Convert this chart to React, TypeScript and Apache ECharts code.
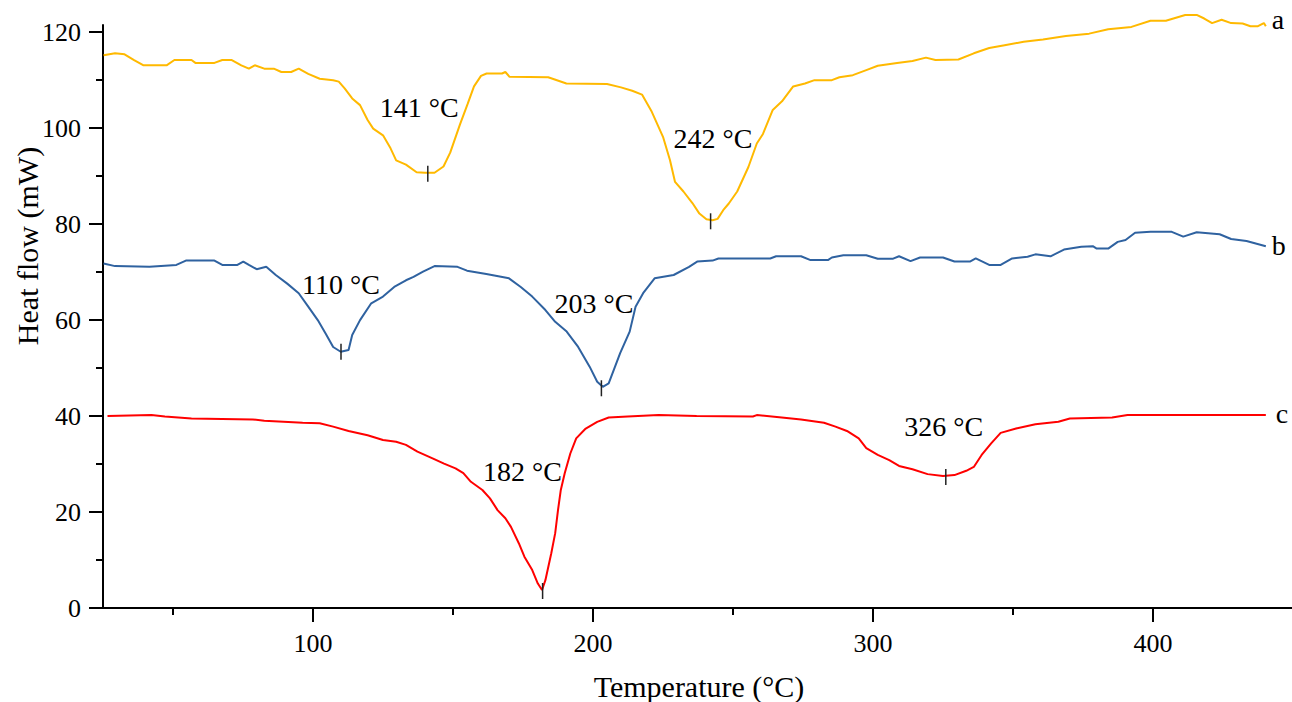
import React, { useEffect, useRef } from 'react';
import * as echarts from 'echarts';

// ---- Data ----
const tempA = [25.2, 29.3, 32.7, 36.1, 39.5, 47.7, 50.5, 56.6, 58, 64.8, 67.6, 71, 74.4, 77.1, 79.2, 82.6, 86, 88.7, 92.2, 94.9, 98.3, 102.4, 107.2, 109.2, 111.3, 114, 116.8, 119.5, 121.5, 125, 127.7, 129.7, 133.2, 137, 140, 143.4, 146.6, 149, 152.5, 155.2, 157.5, 160, 162, 167.5, 168.7, 170.2, 184, 190.5, 205, 210, 214, 217.5, 221, 225, 227.5, 229.3, 232.3, 235.5, 238, 240.5, 242.7, 244.5, 246.5, 248.5, 251.5, 255.5, 258.5, 260.7, 264.2, 267.5, 271.5, 275.7, 279.1, 285.3, 288, 292.8, 297.6, 301.7, 308.6, 314.1, 318.9, 322.3, 330.5, 336, 341.5, 347, 353.8, 360.7, 368.9, 377.2, 384, 392.3, 399.1, 404.6, 411.5, 415.6, 418.3, 421.1, 424.5, 427.9, 432, 434.8, 437.5, 439.6, 440.3];
const flowA = [115.2, 115.6, 115.4, 114.2, 113.1, 113.1, 114.2, 114.2, 113.6, 113.6, 114.2, 114.2, 113.1, 112.4, 113.1, 112.4, 112.4, 111.7, 111.7, 112.4, 111.3, 110.3, 110, 109.7, 108.3, 106.2, 104.8, 101.7, 99.9, 98.5, 95.8, 93.3, 92.4, 90.8, 90.7, 90.7, 92, 94.9, 100.8, 105, 108.7, 110.9, 111.4, 111.4, 111.7, 110.7, 110.6, 109.3, 109.2, 108.5, 107.8, 107, 103.4, 98.2, 93.3, 88.8, 86.8, 84.4, 82.2, 81, 80.8, 81.1, 82.9, 84.3, 86.8, 91.9, 96.8, 98.8, 103.8, 105.6, 108.7, 109.3, 110, 110, 110.6, 111.05, 112.1, 113, 113.6, 114, 114.7, 114.2, 114.3, 115.6, 116.7, 117.3, 118, 118.5, 119.2, 119.7, 120.6, 121.1, 122.4, 122.4, 123.6, 123.6, 122.85, 121.9, 122.6, 121.9, 121.8, 121.25, 121.25, 121.9, 121.25];

const tempB = [25.2, 29.3, 41.6, 51.2, 54.6, 64.8, 67.6, 73, 75.1, 77.1, 79.9, 83.3, 86.7, 90.8, 94.9, 98.3, 101.7, 104.5, 107.2, 109.9, 112.7, 114, 116.8, 120.8, 125, 129, 133.2, 135.9, 139.3, 143.4, 151.6, 155, 161.9, 170, 174.2, 178.3, 183, 186.5, 190.6, 194.7, 198.8, 201.5, 203.5, 205.6, 209.7, 213.1, 215.2, 217.9, 222, 228.8, 234.3, 237.2, 242.7, 244.8, 263.3, 265.4, 274.3, 277.7, 283.9, 285.3, 289.4, 297.6, 301.7, 307.2, 309.3, 313.4, 316.8, 325, 329.1, 334.6, 336.7, 341.5, 345.6, 349.7, 355.2, 358, 363.4, 368.2, 374.4, 378.5, 379.9, 384, 387.4, 390.2, 393.6, 399.1, 406.7, 410.8, 415.6, 423.8, 427.9, 433.4, 440.3];
const flowB = [71.8, 71.25, 71.1, 71.5, 72.4, 72.4, 71.5, 71.5, 72.2, 71.5, 70.6, 71.1, 69.4, 67.6, 65.6, 62.8, 60, 57.2, 54.4, 53.4, 53.75, 56.9, 60, 63.5, 64.9, 66.9, 68.3, 69, 70.1, 71.25, 71.1, 70.3, 69.6, 68.7, 66.9, 64.9, 62.1, 59.65, 57.6, 54.4, 50.3, 47.15, 46.1, 46.8, 53.1, 57.6, 62.8, 65.6, 68.7, 69.4, 71.1, 72.2, 72.4, 72.85, 72.85, 73.3, 73.3, 72.5, 72.5, 73.05, 73.5, 73.5, 72.8, 72.8, 73.3, 72.3, 73.05, 73.05, 72.2, 72.2, 72.85, 71.5, 71.5, 72.85, 73.2, 73.7, 73.3, 74.7, 75.3, 75.4, 74.9, 74.9, 76.3, 76.7, 78.2, 78.4, 78.4, 77.4, 78.3, 77.9, 76.9, 76.5, 75.4];

const tempC = [26.6, 42.3, 47.1, 56.6, 78.5, 82.6, 96.3, 102.4, 107.2, 112.7, 119.5, 125, 129.7, 133.2, 137.3, 142.7, 146.8, 150.9, 153.7, 156.4, 160.5, 163.2, 165.9, 168.7, 170.7, 173.5, 175.5, 178.3, 180.3, 181.8, 183, 185.1, 186.5, 187.5, 188.5, 189.9, 191.9, 194, 197.4, 201.5, 205.6, 212.4, 223.4, 237, 257.1, 258.5, 267.4, 274.3, 282.5, 286.6, 290.7, 294.9, 297.6, 301.7, 305.8, 309.3, 314.1, 319.5, 325, 329.1, 333.3, 336, 338.8, 342.2, 345.6, 351.1, 358, 366.2, 370.3, 385.4, 390.9, 440.3];
const flowC = [40, 40.2, 39.9, 39.5, 39.3, 39.0, 38.6, 38.5, 37.8, 36.9, 36.0, 35, 34.65, 34, 32.6, 31.2, 30.1, 29.1, 28.1, 26.3, 24.6, 22.85, 20.4, 18.7, 16.9, 13.5, 10.7, 7.9, 5.1, 3.75, 5.8, 11.4, 15.6, 20.4, 24.6, 28.1, 32.2, 35.35, 37.4, 38.8, 39.7, 39.9, 40.2, 40, 39.9, 40.2, 39.7, 39.3, 38.6, 37.8, 36.9, 35.35, 33.3, 31.9, 30.8, 29.6, 28.9, 27.9, 27.5, 27.7, 28.6, 29.4, 31.9, 34.3, 36.5, 37.4, 38.3, 38.8, 39.5, 39.7, 40.2, 40.2];

const peakTempA = [141, 242];
const peakFlowA = [90.7, 80.8];
const peakTempB = [110, 203];
const peakFlowB = [53.6, 46.0];
const peakTempC = [182, 326];
const peakFlowC = [3.75, 27.5];

const curveNames = ['a', 'b', 'c'];
const xMajorTicks = [100, 200, 300, 400];
const xMinorTicks = [50, 150, 250, 350, 450];
const yMajorTicks = [0, 20, 40, 60, 80, 100, 120];
const yMinorTicks = [10, 30, 50, 70, 90, 110];

const xTitle = 'Temperature (°C)';
const yTitle = 'Heat flow (mW)';

// ---- Styles ----
const FONT = "'Liberation Serif', 'Times New Roman', serif";
const COLORS = ['#FFB900', '#2F62A0', '#FF0000'];
const LABEL_OFFSETS = [
  [[-8.5, -66], [2.3, -82.6]],
  [[0, -67.4], [-7.4, -84.7]],
  [[-20.2, -119.2], [-2.1, -50.2]],
];
const END_LABEL = [
  { distance: 6, offset: [0, -6.5] },
  { distance: 6, offset: [0, -1] },
  { distance: 6, offset: [4, -2] },
];

function makeSeries(idx: number, temps: number[], flows: number[], pT: number[], pV: number[]) {
  const color = COLORS[idx];
  return {
    type: 'line',
    name: curveNames[idx],
    xAxisIndex: 0,
    yAxisIndex: 0,
    data: temps.map((t, i) => [t, flows[i]]),
    showSymbol: false,
    symbol: 'none',
    clip: false,
    lineStyle: { color, width: 2 },
    itemStyle: { color },
    emphasis: { disabled: true },
    endLabel: {
      show: true,
      formatter: curveNames[idx],
      color: '#000',
      fontSize: 28,
      fontFamily: FONT,
      distance: END_LABEL[idx].distance,
      offset: END_LABEL[idx].offset,
    },
    markPoint: {
      symbol: 'rect',
      symbolSize: [1.5, 16],
      symbolOffset: [0, 1],
      itemStyle: { color: '#222' },
      emphasis: { disabled: true },
      data: pT.map((t, i) => ({
        coord: [t, pV[i]],
        label: {
          show: true,
          formatter: `${t} °C`,
          position: 'inside',
          offset: LABEL_OFFSETS[idx][i],
          color: '#000',
          fontSize: 28,
          fontFamily: FONT,
        },
      })),
    },
  };
}

export default function App() {
  const ref = useRef<HTMLDivElement>(null);
  useEffect(() => {
    if (!ref.current) return;
    const chart = echarts.init(ref.current, null, { renderer: 'svg' });
    const axisLine = { show: true, lineStyle: { color: '#000', width: 2 } };
    chart.setOption({
      animation: false,
      backgroundColor: '#fff',
      textStyle: { fontFamily: FONT },
      grid: { left: 103, right: -1, top: 25, bottom: 94, outerBoundsMode: 'none', containLabel: false },
      xAxis: [
        {
          type: 'value', min: 25, max: 450, position: 'bottom',
          axisLine,
          axisTick: { show: true, customValues: xMajorTicks, length: 14, lineStyle: { color: '#000', width: 2 } },
          axisLabel: { show: true, customValues: xMajorTicks, margin: 22, color: '#000', fontSize: 26, fontFamily: FONT },
          splitLine: { show: false },
        },
        {
          type: 'value', min: 25, max: 450, position: 'bottom', offset: 0,
          axisLine: { show: false },
          axisTick: { show: true, customValues: xMinorTicks, length: 7, lineStyle: { color: '#000', width: 2 } },
          axisLabel: { show: false },
          splitLine: { show: false },
        },
      ],
      yAxis: [
        {
          type: 'value', min: 0, max: 121.5, position: 'left',
          axisLine,
          axisTick: { show: true, customValues: yMajorTicks, length: 14, lineStyle: { color: '#000', width: 2 } },
          axisLabel: { show: true, customValues: yMajorTicks, margin: 22, color: '#000', fontSize: 26, fontFamily: FONT },
          splitLine: { show: false },
        },
        {
          type: 'value', min: 0, max: 121.5, position: 'left', offset: 0,
          axisLine: { show: false },
          axisTick: { show: true, customValues: yMinorTicks, length: 7, lineStyle: { color: '#000', width: 2 } },
          axisLabel: { show: false },
          splitLine: { show: false },
        },
      ],
      graphic: [
        {
          type: 'text', x: 699, y: 686,
          style: { text: xTitle, fill: '#000', fontSize: 30, lineHeight: 28, fontFamily: FONT, align: 'center', verticalAlign: 'middle', textAlign: 'center', textVerticalAlign: 'middle' },
        },
        {
          type: 'text', x: 27, y: 246, rotation: Math.PI / 2,
          style: { text: yTitle, fill: '#000', fontSize: 30, fontFamily: FONT, align: 'center', verticalAlign: 'middle', textAlign: 'center', textVerticalAlign: 'middle' },
        },
      ],
      series: [
        makeSeries(0, tempA, flowA, peakTempA, peakFlowA),
        makeSeries(1, tempB, flowB, peakTempB, peakFlowB),
        makeSeries(2, tempC, flowC, peakTempC, peakFlowC),
      ],
    });
    return () => chart.dispose();
  }, []);
  return <div ref={ref} style={{ position: 'fixed', left: 0, top: 0, width: 1292, height: 702 }} />;
}
